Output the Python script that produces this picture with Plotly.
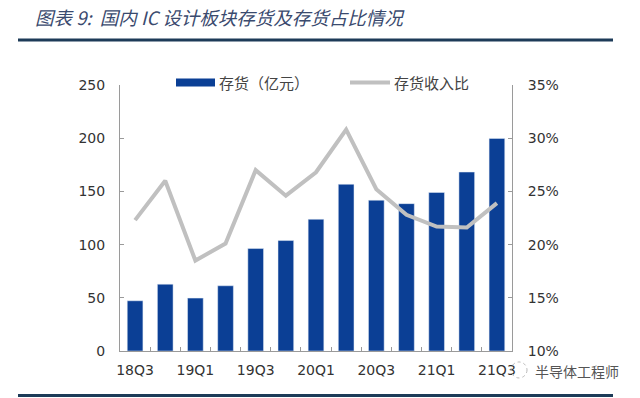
import plotly.graph_objects as go

quarters = ["18Q3", "18Q4", "19Q1", "19Q2", "19Q3", "19Q4", "20Q1", "20Q2",
            "20Q3", "20Q4", "21Q1", "21Q2", "21Q3"]
inventory = [47.2, 62.8, 49.7, 61.3, 96.3, 103.8, 123.8, 156.7, 141.7, 138.5, 149.0, 168.2, 199.8]
inv_ratio = [22.3, 26.0, 18.5, 20.1, 27.0, 24.6, 26.8, 30.8, 25.2, 22.8, 21.7, 21.6, 23.9]
left_ticks = [0, 50, 100, 150, 200, 250]
right_ticks = [10, 15, 20, 25, 30, 35]
right_ticktext = ["10%", "15%", "20%", "25%", "30%", "35%"]

BAR = "#0b3f95"
LINE = "#c0c0c0"
AX = "#9a9a9a"
TXT = "#333333"
FONT = "DejaVu Sans"
CJK = "Noto Sans CJK SC"

x_idx = list(range(len(quarters)))
fig = go.Figure()
fig.add_trace(go.Bar(x=x_idx, y=inventory, marker_color=BAR, name="存货（亿元）",
                     yaxis="y", showlegend=False))
fig.add_trace(go.Scatter(x=x_idx, y=inv_ratio, mode="lines", name="存货收入比",
                         line=dict(color=LINE, width=4), yaxis="y2", showlegend=False))

L, R, T, B = 120, 128, 84.5, 47
W, H = 640, 398
pw, ph = W - L - R, H - T - B


def px(x):
    return (x - L) / pw


def py(y):
    return (H - B - y) / ph


shapes = [
    dict(type="line", xref="paper", yref="paper", x0=px(18), x1=px(613), y0=py(39.5), y1=py(39.5),
         line=dict(color="#1d3b58", width=3)),
    dict(type="line", xref="paper", yref="paper", x0=px(18), x1=px(613), y0=py(395.5), y1=py(395.5),
         line=dict(color="#1d3b58", width=3)),
    dict(type="rect", xref="paper", yref="paper", x0=px(176), x1=px(215), y0=py(86), y1=py(78),
         fillcolor=BAR, line=dict(width=0)),
    dict(type="line", xref="paper", yref="paper", x0=px(350), x1=px(390), y0=py(82), y1=py(82),
         line=dict(color=LINE, width=4)),
    dict(type="circle", xref="paper", yref="paper", x0=px(511), x1=px(527), y0=py(378), y1=py(362),
         line=dict(color="#b8b8b8", width=1, dash="dot")),
]

annotations = [
    dict(text="存货（亿元）", xref="paper", yref="paper", x=px(217), y=py(82), xanchor="left",
         yanchor="middle", showarrow=False, font=dict(family=CJK, size=15, color="#444444")),
    dict(text="存货收入比", xref="paper", yref="paper", x=px(392), y=py(82), xanchor="left",
         yanchor="middle", showarrow=False, font=dict(family=CJK, size=15, color="#444444")),
    dict(text="半导体工程师", xref="paper", yref="paper", x=px(533), y=py(371), xanchor="left",
         yanchor="middle", showarrow=False, font=dict(family=CJK, size=14, color="#555555")),
]

fig.update_layout(
    width=W, height=H,
    margin=dict(l=L, r=R, t=T, b=B),
    paper_bgcolor="white", plot_bgcolor="white",
    bargap=0.48,
    title=dict(text="图表 9:  国内 IC 设计板块存货及存货占比情况", x=35 / W, xanchor="left",
               y=1 - 19 / H, yanchor="middle",
               font=dict(family=CJK, size=18.5, color="#3a4a6e", style="italic")),
    xaxis=dict(range=[-0.5, len(quarters) - 0.5], tickmode="array",
               tickvals=x_idx[::2], ticktext=quarters[::2], ticks="", showgrid=False,
               showline=True, linecolor=AX, linewidth=1, zeroline=False,
               tickfont=dict(family=FONT, size=14, color=TXT), ticklabelstandoff=6,
               minor=dict(tickmode="array", tickvals=[i + 0.5 for i in x_idx[:-1]],
                          ticks="inside", ticklen=4, tickcolor=AX, showgrid=False)),
    yaxis=dict(range=[0, 250], tickvals=left_ticks, ticks="inside", ticklen=4, tickcolor=AX,
               showline=True, linecolor=AX, linewidth=1, showgrid=False, zeroline=False,
               tickfont=dict(family=FONT, size=14, color=TXT), ticklabelstandoff=11),
    yaxis2=dict(range=[10, 35], tickvals=right_ticks, ticktext=right_ticktext, overlaying="y",
                side="right", ticks="inside", ticklen=4, tickcolor=AX, showline=True,
                linecolor=AX, linewidth=1, showgrid=False, zeroline=False,
                tickfont=dict(family=FONT, size=14, color=TXT), ticklabelstandoff=12),
    shapes=shapes,
    annotations=annotations,
)

fig.write_html("out.html", config={"displayModeBar": False},
               post_script="document.body.style.margin='0px';")
